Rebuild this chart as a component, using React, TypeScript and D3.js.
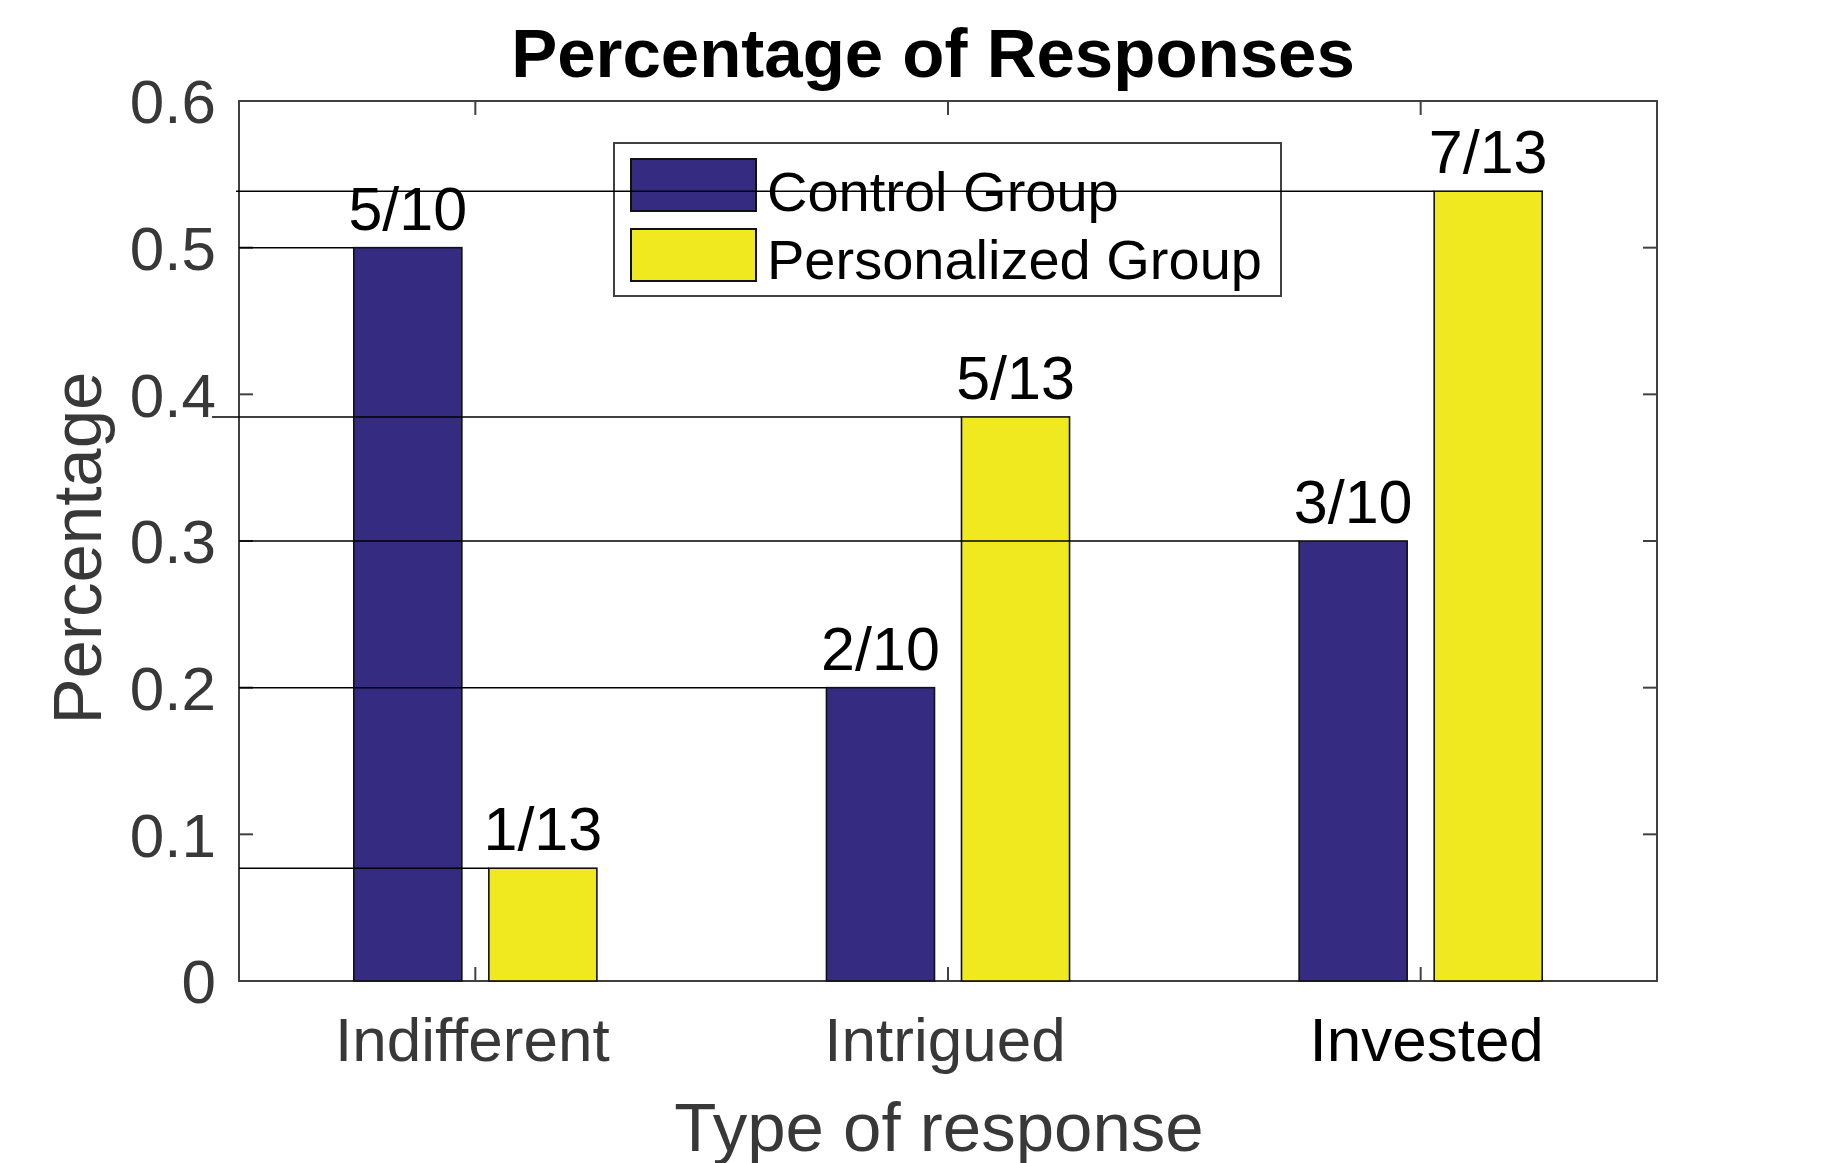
import { scaleLinear, select } from 'd3';
import React, { useEffect, useRef } from 'react';

// chart values
const categories = ['Indifferent', 'Intrigued', 'Invested'];
const seriesNames = ['Control Group', 'Personalized Group'];
const controlValues = [0.5, 0.2, 0.3];
const personalizedValues = [0.0769, 0.3846, 0.5385];
const controlLabels = ['5/10', '2/10', '3/10'];
const personalizedLabels = ['1/13', '5/13', '7/13'];
const yTicks = [0, 0.1, 0.2, 0.3, 0.4, 0.5, 0.6];
const yTickLabels = ['0', '0.1', '0.2', '0.3', '0.4', '0.5', '0.6'];

const W = 1829;
const H = 1163;
const colors = ['#352c82', '#f0e920'];
const FONT = "'Liberation Sans', Arial, Helvetica, sans-serif";

const App = () => {
  const svgRef = useRef<SVGSVGElement>(null);

  useEffect(() => {
    const svg = select(svgRef.current);
    svg.selectAll('*').remove();

    const left = 239;
    const right = 1657;
    const top = 101;
    const bottom = 981;

    const x = scaleLinear().domain([0.5, categories.length + 0.5]).range([left, right]);
    const y = scaleLinear().domain([0, 0.6]).range([bottom, top]);

    // matlab grouped bar geometry
    const groupWidth = 2 / 3.5;
    const offset = groupWidth / 4;
    const barW = x(groupWidth / 2 * 0.8) - x(0);

    const bars = categories.flatMap((c, i) => [
      { cat: c, i, s: 0, v: controlValues[i], label: controlLabels[i] },
      { cat: c, i, s: 1, v: personalizedValues[i], label: personalizedLabels[i] },
    ]);
    const barCx = (d: { i: number; s: number }) => x(d.i + 1 + (d.s === 0 ? -offset : offset));

    // axes box
    svg
      .append('rect')
      .attr('x', left)
      .attr('y', top)
      .attr('width', right - left)
      .attr('height', bottom - top)
      .attr('fill', 'white')
      .attr('stroke', '#404040')
      .attr('stroke-width', 2);

    // bars
    svg
      .selectAll('.bar')
      .data(bars)
      .join('rect')
      .attr('class', 'bar')
      .attr('x', (d) => barCx(d) - barW / 2)
      .attr('y', (d) => y(d.v))
      .attr('width', barW)
      .attr('height', (d) => bottom - y(d.v))
      .attr('fill', (d) => colors[d.s])
      .attr('stroke', '#111')
      .attr('stroke-width', 1.6);

    // ticks
    const tl = 14;
    yTicks.forEach((t) => {
      svg.append('line').attr('x1', left).attr('x2', left + tl).attr('y1', y(t)).attr('y2', y(t)).attr('stroke', '#404040').attr('stroke-width', 2);
      svg.append('line').attr('x1', right).attr('x2', right - tl).attr('y1', y(t)).attr('y2', y(t)).attr('stroke', '#404040').attr('stroke-width', 2);
    });
    categories.forEach((_, i) => {
      const cx = x(i + 1);
      svg.append('line').attr('x1', cx).attr('x2', cx).attr('y1', top).attr('y2', top + tl).attr('stroke', '#404040').attr('stroke-width', 2);
      svg.append('line').attr('x1', cx).attr('x2', cx).attr('y1', bottom).attr('y2', bottom - tl).attr('stroke', '#404040').attr('stroke-width', 2);
    });

    // y tick labels
    svg
      .selectAll('.ytl')
      .data(yTicks)
      .join('text')
      .attr('class', 'ytl')
      .attr('x', left - 23)
      .attr('y', (d) => y(d))
      .attr('dy', '0.36em')
      .attr('text-anchor', 'end')
      .attr('font-family', FONT)
      .attr('font-size', 62)
      .attr('fill', '#383838')
      .text((_, i) => yTickLabels[i]);

    // x tick labels (the last one was placed a little to the right in the original)
    const labelShift = [-3, -3, 6];
    svg
      .selectAll('.xtl')
      .data(categories)
      .join('text')
      .attr('class', 'xtl')
      .attr('x', (_, i) => x(i + 1) + labelShift[i])
      .attr('y', 1061)
      .attr('text-anchor', 'middle')
      .attr('font-family', FONT)
      .attr('font-size', 62)
      .attr('fill', (_, i) => (i === 2 ? '#000' : '#383838'))
      .text((d) => d);

    // value labels
    svg
      .selectAll('.vl')
      .data(bars)
      .join('text')
      .attr('class', 'vl')
      .attr('x', (d) => barCx(d))
      .attr('y', (d) => y(d.v) - 18)
      .attr('text-anchor', 'middle')
      .attr('font-family', FONT)
      .attr('font-size', 61)
      .attr('fill', '#000')
      .text((d) => d.label);

    // legend
    const lg = svg.append('g');
    lg.append('rect')
      .attr('x', 614)
      .attr('y', 143)
      .attr('width', 667)
      .attr('height', 153)
      .attr('fill', 'white')
      .attr('stroke', '#404040')
      .attr('stroke-width', 2);
    seriesNames.forEach((name, i) => {
      lg.append('rect')
        .attr('x', 631)
        .attr('y', 159 + i * 70)
        .attr('width', 125)
        .attr('height', 52)
        .attr('fill', colors[i])
        .attr('stroke', '#111')
        .attr('stroke-width', 2);
      lg.append('text')
        .attr('x', 767)
        .attr('y', 211 + i * 68)
        .attr('font-family', FONT)
        .attr('font-size', 56)
        .attr('fill', '#000')
        .text(name);
    });

    // guide lines from the axis to each bar top
    const startShift: Record<string, number> = { 'Intrigued-1': -27, 'Invested-1': -3 };
    svg
      .selectAll('.guide')
      .data(bars)
      .join('line')
      .attr('class', 'guide')
      .attr('x1', (d) => left + (startShift[`${d.cat}-${d.s}`] ?? 0))
      .attr('x2', (d) => barCx(d) - barW / 2)
      .attr('y1', (d) => y(d.v))
      .attr('y2', (d) => y(d.v))
      .attr('stroke', '#000')
      .attr('stroke-width', 1.5);

    // title and axis labels
    svg
      .append('text')
      .attr('x', 933)
      .attr('y', 77)
      .attr('text-anchor', 'middle')
      .attr('font-family', FONT)
      .attr('font-weight', 'bold')
      .attr('font-size', 69)
      .attr('fill', '#000')
      .text('Percentage of Responses');

    svg
      .append('text')
      .attr('x', 939)
      .attr('y', 1151)
      .attr('text-anchor', 'middle')
      .attr('font-family', FONT)
      .attr('font-size', 69)
      .attr('fill', '#383838')
      .text('Type of response');

    svg
      .append('text')
      .attr('transform', 'translate(101,548) rotate(-90)')
      .attr('text-anchor', 'middle')
      .attr('font-family', FONT)
      .attr('font-size', 69)
      .attr('fill', '#383838')
      .text('Percentage');
  }, []);

  return (
    <div style={{ position: 'absolute', left: 0, top: 0 }}>
      <svg ref={svgRef} width={W} height={H} style={{ display: 'block', background: 'white' }}></svg>
    </div>
  );
};

export default App;
